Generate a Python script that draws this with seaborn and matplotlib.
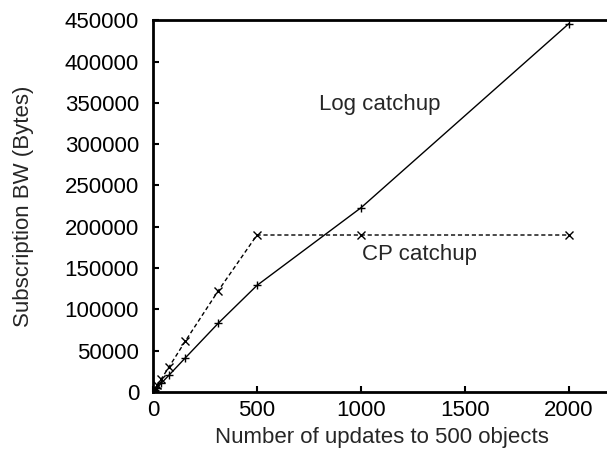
import matplotlib
matplotlib.use("Agg")
import matplotlib.pyplot as plt
import seaborn as sns
import pandas as pd

updates = [1, 5, 10, 20, 39, 78, 156, 313, 500, 1000, 2000]
log_catchup = [300, 1400, 2700, 5300, 10400, 20600, 41400, 83000, 129000, 223000, 446000]
cp_catchup = [400, 2000, 4000, 7900, 15400, 30600, 61700, 122200, 190000, 190000, 190000]
x_ticks = [0, 500, 1000, 1500, 2000]
y_ticks = list(range(0, 450001, 50000))

sns.set_style("ticks")
plt.rcParams['font.family'] = ['Liberation Sans', 'DejaVu Sans']

FS = 16
fig = plt.figure(figsize=(6.07, 4.59), dpi=100)
ax = fig.add_axes([0.252, 0.146, 0.754, 0.810])

df_log = pd.DataFrame({"x": updates, "y": log_catchup})
df_cp = pd.DataFrame({"x": updates, "y": cp_catchup})

sns.lineplot(data=df_log, x="x", y="y", ax=ax, color="black", linewidth=1.0,
             marker="+", markersize=6, markeredgewidth=1.0,
             markeredgecolor="black", markerfacecolor="black")
sns.lineplot(data=df_cp, x="x", y="y", ax=ax, color="black", linewidth=1.0,
             linestyle=(0, (3, 2)), marker="x", markersize=6, markeredgewidth=1.0,
             markeredgecolor="black", markerfacecolor="black")

ax.set_xlim(0, 2200)
ax.set_ylim(0, 450000)
ax.set_xticks(x_ticks)
ax.set_yticks(y_ticks)
ax.set_xticklabels([str(v) for v in x_ticks])
ax.set_yticklabels([str(v) for v in y_ticks])
ax.tick_params(direction="in", length=4, width=1.5, labelsize=FS,
               top=False, right=False, colors="black")
ax.tick_params(axis="y", pad=10)
ax.tick_params(axis="x", pad=6)
for s in ax.spines.values():
    s.set_linewidth(2.0)
    s.set_color("black")

ax.set_xlabel("Number of updates to 500 objects", fontsize=FS, labelpad=4)
ax.set_ylabel("Subscription BW (Bytes)", fontsize=FS, labelpad=22)

ax.text(1091, 348000, "Log catchup", fontsize=FS, ha="center", va="center")
ax.text(1280, 167000, "CP catchup", fontsize=FS, ha="center", va="center")

fig.savefig("out.png", dpi=100)
